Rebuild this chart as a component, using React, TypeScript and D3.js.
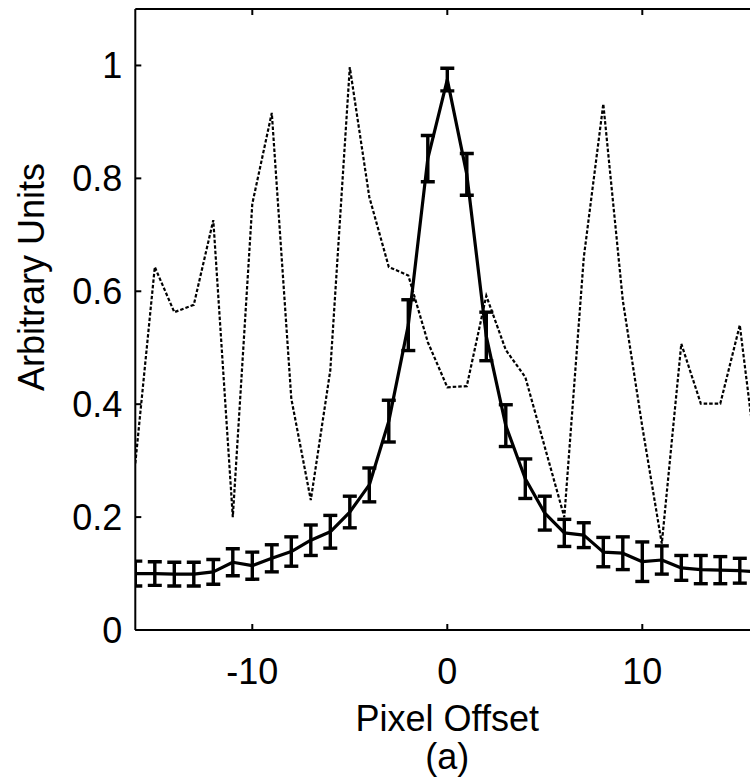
import React from "react";
import * as d3 from "d3";

const offsets = d3.range(-16, 17);
const meanValues = [
  0.1, 0.1, 0.099, 0.099, 0.103, 0.12, 0.114, 0.127, 0.139, 0.159, 0.174, 0.209, 0.257, 0.37, 0.54, 0.835,
  0.975, 0.807, 0.52, 0.362, 0.268, 0.207, 0.172, 0.168, 0.138, 0.136, 0.121, 0.124, 0.11, 0.107, 0.106, 0.105, 0.103,
];
const errValues = [
  0.022, 0.021, 0.021, 0.021, 0.022, 0.024, 0.024, 0.024, 0.026, 0.027, 0.029, 0.028, 0.03, 0.037, 0.045, 0.041,
  0.02, 0.037, 0.043, 0.037, 0.035, 0.03, 0.024, 0.022, 0.026, 0.029, 0.035, 0.025, 0.022, 0.025, 0.024, 0.022, 0.022,
];
const singleValues = [
  0.295, 0.643, 0.563, 0.576, 0.726, 0.2, 0.755, 0.916, 0.41, 0.23, 0.46, 0.997, 0.767, 0.643, 0.628, 0.51,
  0.43, 0.432, 0.592, 0.496, 0.448, 0.324, 0.2, 0.66, 0.932, 0.584, 0.36, 0.153, 0.507, 0.401, 0.401, 0.54, 0.26,
];
const xTicks = [-10, 0, 10];
const yTicks = [0, 0.2, 0.4, 0.6, 0.8, 1];
const yTickLabels = ["0", "0.2", "0.4", "0.6", "0.8", "1"];
const xLabel = "Pixel Offset";
const yLabel = "Arbitrary Units";
const caption = "(a)";

export default function App() {
  const W = 750;
  const H = 779;
  const left = 135.3;
  const right = 759.3;
  const top = 9;
  const bottom = 630;
  const x = d3.scaleLinear().domain([-16, 16]).range([left, right]);
  const y = d3.scaleLinear().domain([0, 1.1]).range([bottom, top]);
  const font = "'Liberation Sans', Arial, sans-serif";
  const fs = 36;

  const meanLine = d3
    .line<number>()
    .x((_, i) => x(offsets[i]))
    .y((d) => y(d))(meanValues) as string;
  const singleLine = d3
    .line<number>()
    .x((_, i) => x(offsets[i]))
    .y((d) => y(d))(singleValues) as string;
  const cap = 7;

  return (
    <svg
      width={W}
      height={H}
      style={{ position: "absolute", left: 0, top: 0, background: "#fff" }}
      fontFamily={font}
    >
      <defs>
        <clipPath id="plotclip">
          <rect x={left} y={top} width={right - left} height={bottom - top} />
        </clipPath>
      </defs>
      <rect x={0} y={0} width={W} height={H} fill="#fff" />
      <g clipPath="url(#plotclip)">
        <path d={singleLine} fill="none" stroke="#000" strokeWidth={2.2} strokeDasharray="3.5 2" />
        <path d={meanLine} fill="none" stroke="#000" strokeWidth={3.2} strokeLinejoin="round" />
        {meanValues.map((m, i) => {
          const cx = x(offsets[i]);
          const y1 = y(m + errValues[i]);
          const y2 = y(m - errValues[i]);
          return (
            <g key={i} stroke="#000" strokeWidth={3.4}>
              <line x1={cx} x2={cx} y1={y1} y2={y2} />
              <line x1={cx - cap} x2={cx + cap} y1={y1} y2={y1} />
              <line x1={cx - cap} x2={cx + cap} y1={y2} y2={y2} />
            </g>
          );
        })}
      </g>
      <g stroke="#000" strokeWidth={2} fill="none">
        <line x1={left} x2={right} y1={top} y2={top} />
        <line x1={left} x2={right} y1={bottom} y2={bottom} />
        <line x1={left} x2={left} y1={top} y2={bottom} />
        <line x1={right} x2={right} y1={top} y2={bottom} />
        {xTicks.map((t) => (
          <g key={"xt" + t}>
            <line x1={x(t)} x2={x(t)} y1={bottom} y2={bottom - 6} />
            <line x1={x(t)} x2={x(t)} y1={top} y2={top + 6} />
          </g>
        ))}
        {yTicks.map((t) => (
          <g key={"yt" + t}>
            <line x1={left} x2={left + 6} y1={y(t)} y2={y(t)} />
            <line x1={right} x2={right - 6} y1={y(t)} y2={y(t)} />
          </g>
        ))}
      </g>
      {xTicks.map((t) => (
        <text key={"xl" + t} x={x(t)} y={684} textAnchor="middle" fontSize={fs} fill="#000">
          {t}
        </text>
      ))}
      {yTicks.map((t, i) => (
        <text
          key={"yl" + t}
          x={left - 13}
          y={y(t)}
          dy="0.36em"
          textAnchor="end"
          fontSize={fs}
          fill="#000"
        >
          {yTickLabels[i]}
        </text>
      ))}
      <text x={x(0)} y={731} textAnchor="middle" fontSize={fs} fill="#000">
        {xLabel}
      </text>
      <text x={x(0)} y={769} textAnchor="middle" fontSize={fs} fill="#000">
        {caption}
      </text>
      <text
        transform={`translate(44, 277) rotate(-90)`}
        textAnchor="middle"
        fontSize={fs}
        fill="#000"
      >
        {yLabel}
      </text>
    </svg>
  );
}
